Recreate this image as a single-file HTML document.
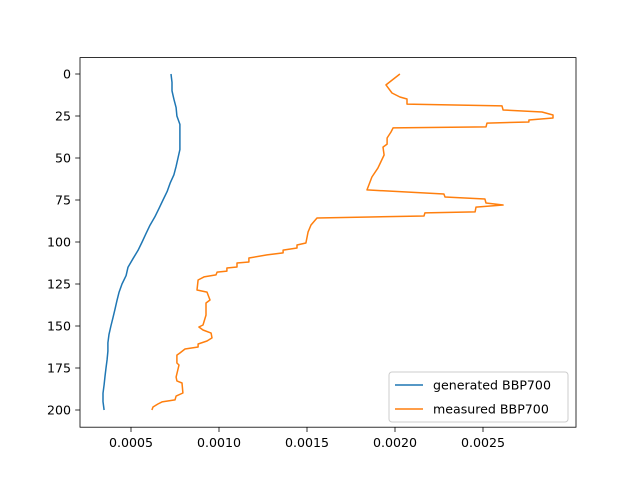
<!DOCTYPE html>
<html><head><meta charset="utf-8"><style>
body{margin:0;background:#fff;}
svg{display:block;font-family:"DejaVu Sans","Liberation Sans",sans-serif;}
</style></head><body>
<svg id="chart" width="640" height="480">
<rect x="80" y="57.6" width="496" height="369.6" fill="none" stroke="#000" stroke-width="0.8"/>
<g id="ticks"></g>
<g id="series"></g>
<g>
<rect x="389" y="372" width="179" height="50" rx="3" fill="#fff" fill-opacity="0.8" stroke="#ccc" stroke-width="1"/>
<line x1="395" y1="385" x2="423" y2="385" stroke="#1f77b4" stroke-width="1.5"/>
<text x="433" y="389.5" font-size="12.6">generated BBP700</text>
<line x1="395" y1="409" x2="423" y2="409" stroke="#ff7f0e" stroke-width="1.5"/>
<text x="433" y="413.5" font-size="12.6">measured BBP700</text>
</g>
</svg>
<script>
// values in units of 1e-3
const genDepth=[0,5,10,15,20,25,30,40,45,50,55,60,65,70,75,80,85,90,95,100,105,110,115,120,125,130,135,140,145,150,155,160,165,170,175,180,185,190,195,200];
const genValue=[0.727,0.733,0.733,0.744,0.756,0.761,0.778,0.778,0.778,0.767,0.756,0.744,0.722,0.705,0.682,0.659,0.636,0.608,0.585,0.563,0.540,0.511,0.483,0.472,0.449,0.432,0.420,0.409,0.398,0.386,0.375,0.369,0.369,0.364,0.358,0.352,0.347,0.341,0.341,0.347];
const measDepth=[0,6.5,11.3,13.7,14.9,17.9,19.0,21.4,22.6,24.4,26.2,27.4,28.6,29.2,31.5,32.1,34.5,38.1,41.7,43.5,48.2,56.0,61.3,69.0,71.4,73.2,74.4,76.8,78.0,79.2,82.1,82.7,84.5,85.1,85.7,89.9,94.0,100.6,101.8,103.6,104.8,106.5,107.7,109.5,111.9,112.5,114.9,115.5,117.3,117.9,119.6,120.8,122.6,128.6,129.8,134.5,136.3,143.5,149.4,150.6,152.4,154.2,157.1,158.9,160.7,162.5,163.7,166.1,167.3,172.0,173.2,180.4,182.7,183.9,189.9,191.7,194.0,195.2,196.4,198.2,200.0];
const measValue=[2.028,1.949,1.983,2.028,2.068,2.068,2.608,2.614,2.835,2.898,2.898,2.761,2.761,2.523,2.517,1.989,1.977,1.955,1.955,1.932,1.938,1.903,1.869,1.841,2.278,2.284,2.511,2.517,2.614,2.460,2.455,2.170,2.165,1.858,1.557,1.523,1.506,1.494,1.443,1.443,1.364,1.364,1.273,1.170,1.170,1.102,1.102,1.045,1.045,0.989,0.983,0.915,0.881,0.875,0.932,0.949,0.926,0.926,0.909,0.886,0.909,0.955,0.960,0.932,0.881,0.881,0.807,0.778,0.761,0.761,0.773,0.756,0.761,0.790,0.795,0.756,0.750,0.676,0.653,0.625,0.619];
const xTicks=[0.5,1.0,1.5,2.0,2.5];
const xTickLabels=["0.0005","0.0010","0.0015","0.0020","0.0025"];
const yTicks=[0,25,50,75,100,125,150,175,200];

const NS="http://www.w3.org/2000/svg";
function xs(v){return 131+(v-0.5)*176;}
function ys(d){return 74+d*1.68;}
const tg=document.getElementById('ticks');
function mk(tag,attrs,parent){const e=document.createElementNS(NS,tag);for(const k in attrs)e.setAttribute(k,attrs[k]);parent.appendChild(e);return e;}
xTicks.forEach((t,i)=>{
  const x=xs(t);
  const l=mk('line',{x1:x,x2:x,y1:427.2,y2:432,stroke:'#000','stroke-width':0.8},tg);
  
  
  const tx=mk('text',{x:x,y:447,'font-size':12.6,'text-anchor':'middle'},tg);
  tx.textContent=xTickLabels[i];
  
  
});
yTicks.forEach(t=>{
  const y=ys(t);
  const l=mk('line',{x1:75.2,x2:80,y1:y,y2:y,stroke:'#000','stroke-width':0.8},tg);
  
  
  const tx=mk('text',{x:71,y:y+4.5,'font-size':12.6,'text-anchor':'end'},tg);
  tx.textContent=String(t);
  
  
});
const sg=document.getElementById('series');
function line(ds,vs,color,name){
  const pts=ds.map((d,i)=>xs(vs[i]).toFixed(1)+','+ys(d).toFixed(1)).join(' ');
  const p=mk('polyline',{points:pts,fill:'none',stroke:color,'stroke-width':1.5,'stroke-linejoin':'round'},sg);
  
  
}
line(genDepth,genValue,'#1f77b4','generated-bbp700-line');
line(measDepth,measValue,'#ff7f0e','measured-bbp700-line');
</script>
</body></html>
